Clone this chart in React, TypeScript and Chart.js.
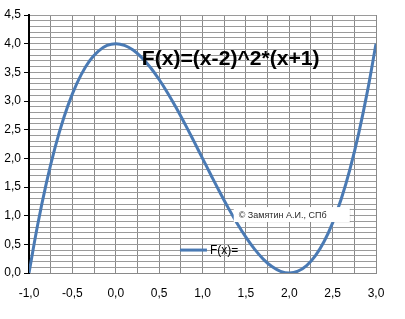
import React, { useEffect, useRef } from "react";
import { Chart, registerables } from "chart.js";

Chart.register(...registerables);

const xValues = [-1, -0.9, -0.8, -0.7, -0.6, -0.5, -0.4, -0.3, -0.2, -0.1, 0, 0.1, 0.2, 0.3, 0.4, 0.5, 0.6, 0.7, 0.8, 0.9, 1.0, 1.1, 1.2, 1.3, 1.4, 1.5, 1.6, 1.7, 1.8, 1.9, 2.0, 2.1, 2.2, 2.3, 2.4, 2.5, 2.6, 2.7, 2.8, 2.9, 3.0];
const yValues = [0, 0.841, 1.568, 2.187, 2.704, 3.125, 3.456, 3.703, 3.872, 3.969, 4.0, 3.971, 3.888, 3.757, 3.584, 3.375, 3.136, 2.873, 2.592, 2.299, 2.0, 1.701, 1.408, 1.127, 0.864, 0.625, 0.416, 0.243, 0.112, 0.029, 0, 0.031, 0.128, 0.297, 0.544, 0.875, 1.296, 1.813, 2.432, 3.159, 4.0];
const titleText = "F(x)=(x-2)^2*(x+1)";
const legendLabel = "F(x)=";
const copyrightText = "© Замятин А.И., СПб";

const LINE_COLOR = "#4a7ab4";
const FONT = "'Liberation Sans', Arial, sans-serif";

function isMajor(v: number) {
  return Math.abs(v * 2 - Math.round(v * 2)) < 1e-6;
}
function fmt(v: number) {
  return (Math.round(v * 10) / 10).toFixed(1).replace(".", ",");
}

const overlayPlugin = {
  id: "overlay",
  afterDraw(chart: any) {
    const ctx = chart.ctx as CanvasRenderingContext2D;
    const xs = chart.scales.x;
    const ys = chart.scales.y;
    ctx.save();
    // Title
    let size = 18;
    ctx.font = `bold ${size}px ${FONT}`;
    const w = ctx.measureText(titleText).width;
    size = size * (178 / w);
    ctx.font = `bold ${size}px ${FONT}`;
    ctx.fillStyle = "#000";
    ctx.textBaseline = "middle";
    ctx.textAlign = "left";
    ctx.fillText(titleText, xs.getPixelForValue(0.3), ys.getPixelForValue(3.73));

    // Copyright box
    const bx = xs.getPixelForValue(1.36);
    const by = ys.getPixelForValue(1.15);
    const bw = 116;
    const bh = 15;
    ctx.fillStyle = "rgba(0,0,0,0.06)";
    ctx.fillRect(bx + 1, by + 1, bw, bh);
    ctx.fillStyle = "#fff";
    ctx.fillRect(bx, by, bw, bh);
    ctx.fillStyle = "#2a2a2a";
    ctx.font = `9px ${FONT}`;
    ctx.fillText(copyrightText, bx + 5, by + bh / 2 + 0.5);

    // Legend
    const lx = xs.getPixelForValue(0.74);
    const ly = ys.getPixelForValue(0.4);
    ctx.strokeStyle = LINE_COLOR;
    ctx.lineWidth = 3;
    ctx.beginPath();
    ctx.moveTo(lx, ly);
    ctx.lineTo(lx + 27, ly);
    ctx.stroke();
    ctx.fillStyle = "#000";
    ctx.font = `12px ${FONT}`;
    ctx.fillText(legendLabel, lx + 30, ly + 0.5);
    ctx.restore();
  },
};

export default function App() {
  const ref = useRef<HTMLCanvasElement>(null);
  useEffect(() => {
    if (!ref.current) return;
    const chart = new Chart(ref.current, {
      type: "line",
      data: {
        datasets: [
          {
            label: legendLabel,
            data: xValues.map((x, i) => ({ x, y: yValues[i] })),
            borderColor: LINE_COLOR,
            borderWidth: 3,
            pointRadius: 0,
            tension: 0.4,
            fill: false,
          },
        ],
      },
      options: {
        animation: false,
        responsive: false,
        maintainAspectRatio: false,
        layout: { padding: { top: 15, right: 29, left: 0, bottom: 0 } },
        plugins: {
          legend: { display: false },
          tooltip: { enabled: false },
          title: { display: false },
        },
        scales: {
          x: {
            type: "linear",
            min: -1,
            max: 3,
            border: { color: "#8a8a8a", width: 1 },
            grid: { color: "#8a8a8a", lineWidth: 1, drawTicks: false },
            ticks: {
              stepSize: 0.25,
              autoSkip: false,
              maxRotation: 0,
              padding: 13,
              color: "#000",
              font: { family: FONT, size: 12 },
              callback: (v: any) => (isMajor(Number(v)) ? fmt(Number(v)) : ""),
            },
            afterFit: (s: any) => {
              s.height = 46;
            },
          },
          y: {
            type: "linear",
            min: 0,
            max: 4.5,
            border: { color: "#000", width: 2 },
            grid: {
              color: "#9a9a9a",
              lineWidth: 1,
              tickLength: 5,
              tickColor: (c: any) => (isMajor(c.tick.value) ? "#000" : "rgba(0,0,0,0)"),
            },
            ticks: {
              stepSize: 0.1,
              autoSkip: false,
              padding: 3,
              color: "#000",
              font: { family: FONT, size: 12 },
              callback: (v: any) => (isMajor(Number(v)) ? fmt(Number(v)) : ""),
            },
            afterFit: (s: any) => {
              s.width = 29;
            },
          },
        },
      },
      plugins: [overlayPlugin],
    });
    return () => chart.destroy();
  }, []);
  return (
    <div style={{ position: "fixed", left: 0, top: 0, width: 405, height: 319, background: "#fff" }}>
      <canvas ref={ref} width={405} height={319} style={{ width: 405, height: 319 }} />
    </div>
  );
}
